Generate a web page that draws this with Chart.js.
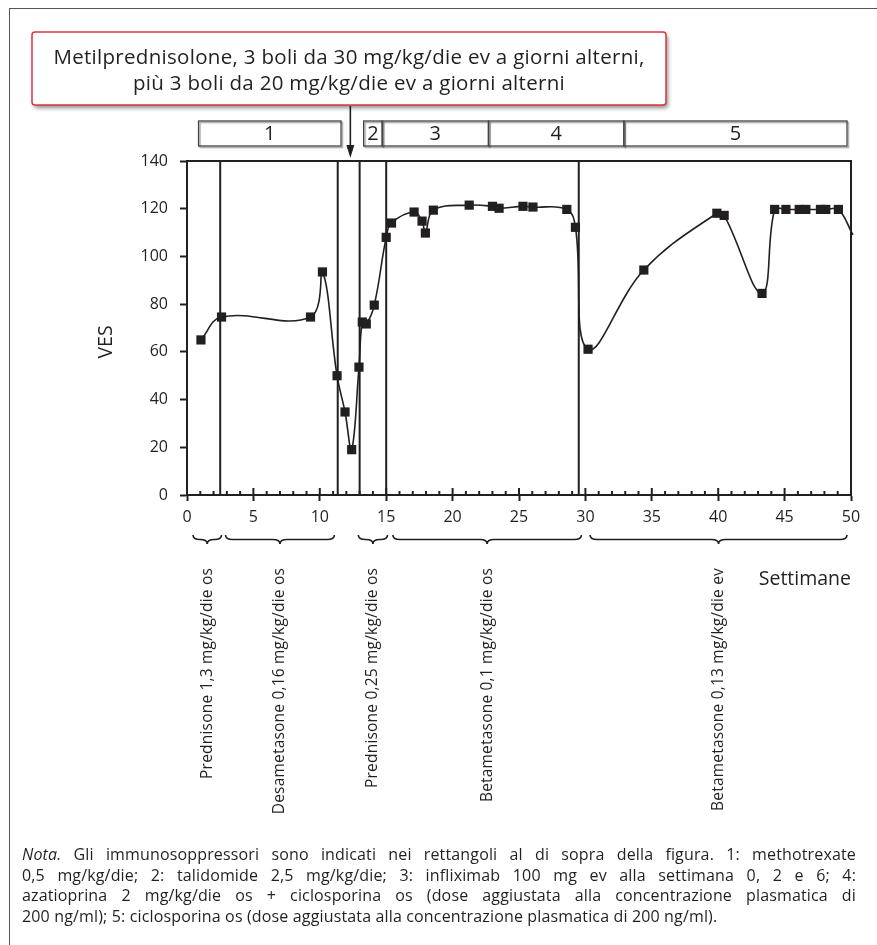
<!doctype html>
<html lang="it">
<head>
<meta charset="utf-8">
<title>VES per settimana</title>
<style>
  * { margin: 0; padding: 0; }
  body { width: 877px; height: 945px; background: #fff; font-family: "Open Sans", sans-serif; color: #231f20; overflow: hidden; position: relative; }
  .frame { position: absolute; left: 9px; top: 8px; width: 900px; height: 960px; border-left: 1.5px solid #555; border-top: 1.5px solid #555; }
  .chartBox { position: absolute; left: 0; top: 0; width: 877px; height: 945px; }
  .nota { position: absolute; left: 22px; top: 844px; width: 834px; font-size: 16px; line-height: 20.5px; letter-spacing: 0.15px; }
  .nota div { text-align: justify; text-align-last: justify; white-space: nowrap; }
  .nota div.last { text-align-last: left; }
</style>
</head>
<body>
<div class="frame"></div>
<div class="chartBox"><canvas id="vesChart"></canvas></div>
<div class="nota">
  <div><i>Nota.</i> Gli immunosoppressori sono indicati nei rettangoli al di sopra della figura. 1: methotrexate</div>
  <div>0,5 mg/kg/die; 2: talidomide 2,5 mg/kg/die; 3: infliximab 100 mg ev alla settimana 0, 2 e 6; 4:</div>
  <div>azatioprina 2 mg/kg/die os + ciclosporina os (dose aggiustata alla concentrazione plasmatica di</div>
  <div class="last">200 ng/ml); 5: ciclosporina os (dose aggiustata alla concentrazione plasmatica di 200 ng/ml).</div>
</div>
<script src="https://cdn.jsdelivr.net/npm/chart.js"></script>
<script>
const ink = '#231f20';
const font = '"Open Sans", sans-serif';

// VES measurements (week, value)
const weeks = [1.05, 2.6, 9.3, 10.2, 11.3, 11.9, 12.4, 12.95, 13.2, 13.5, 14.1, 15.0, 15.4,
  17.1, 17.7, 17.95, 18.55, 21.25, 23.0, 23.5, 25.3, 26.05, 28.6, 29.25, 30.2, 34.4,
  39.9, 40.45, 43.3, 44.25, 45.1, 46.1, 46.6, 47.7, 48.1, 49.05, 50.15];
const ves = [65, 74.6, 74.6, 93.5, 50, 34.8, 19, 53.6, 72.5, 71.7, 79.6, 108, 114,
  118.6, 114.8, 109.8, 119.4, 121.5, 121, 120.2, 121, 120.7, 119.7, 112.2, 61.1, 94.3,
  118.1, 117.2, 84.5, 119.7, 119.7, 119.7, 119.7, 119.7, 119.7, 119.7, 109];

// therapy changes (vertical lines)
const switchWeeks = [2.5, 11.35, 13.0, 15.0, 29.5];

// immunosuppressor boxes on top
const drugLabels = ['1', '2', '3', '4', '5'];
const drugStart = [0.87, 13.3, 14.7, 22.7, 32.9];
const drugEnd = [11.6, 14.7, 22.7, 32.9, 49.7];

// steroid periods under the axis
const steroidLabels = ['Prednisone 1,3 mg/kg/die os', 'Desametasone 0,16 mg/kg/die os',
  'Prednisone 0,25 mg/kg/die os', 'Betametasone 0,1 mg/kg/die os', 'Betametasone 0,13 mg/kg/die ev'];
const steroidStart = [0.45, 2.9, 12.9, 15.5, 30.35];
const steroidEnd = [2.6, 11.1, 15.1, 29.7, 49.7];

const bolusWeek = 12.3;
const bolusText = ['Metilprednisolone, 3 boli da 30 mg/kg/die ev a giorni alterni,',
  'più 3 boli da 20 mg/kg/die ev a giorni alterni'];

function brace(ctx, x0, x1, y) {
  const mid = (x0 + x1) / 2, h = 9, r = Math.min(7, (x1 - x0) / 4);
  ctx.beginPath();
  ctx.moveTo(x0, y);
  ctx.quadraticCurveTo(x0, y + h / 2, x0 + r, y + h / 2);
  ctx.lineTo(mid - r, y + h / 2);
  ctx.quadraticCurveTo(mid, y + h / 2, mid, y + h);
  ctx.quadraticCurveTo(mid, y + h / 2, mid + r, y + h / 2);
  ctx.lineTo(x1 - r, y + h / 2);
  ctx.quadraticCurveTo(x1, y + h / 2, x1, y);
  ctx.stroke();
}

// vertical lines + top/right frame of the plot
const plotLines = {
  id: 'plotLines',
  beforeDatasetsDraw(chart) {
    const { ctx, chartArea: { top, bottom, left, right }, scales: { x } } = chart;
    ctx.save();
    ctx.strokeStyle = ink;
    ctx.lineWidth = 2;
    switchWeeks.forEach(w => {
      const px = x.getPixelForValue(w);
      ctx.beginPath();
      ctx.moveTo(px, top);
      ctx.lineTo(px, bottom);
      ctx.stroke();
    });
    ctx.beginPath();
    ctx.moveTo(left, top);
    ctx.lineTo(right, top);
    ctx.lineTo(right, bottom);
    ctx.stroke();
    // inner tick marks on the x axis
    for (let i = 0; i <= 50; i++) {
      const px = x.getPixelForValue(i);
      ctx.beginPath();
      ctx.moveTo(px, bottom);
      ctx.lineTo(px, bottom - (i % 5 === 0 ? 7 : 4));
      ctx.stroke();
    }
    ctx.restore();
  }
};

// annotations around the plot
const annotations = {
  id: 'annotations',
  afterDraw(chart) {
    const { ctx, chartArea: { top, bottom, left, right }, scales: { x } } = chart;
    ctx.save();
    ctx.fillStyle = ink;
    ctx.strokeStyle = ink;

    // axis titles
    ctx.font = '19.5px ' + font;
    ctx.textAlign = 'right';
    ctx.textBaseline = 'alphabetic';
    ctx.fillText('Settimane', right, 585);
    ctx.save();
    ctx.translate(left - 81, (top + bottom) / 2 + 14);
    ctx.rotate(-Math.PI / 2);
    ctx.textAlign = 'center';
    ctx.textBaseline = 'middle';
    ctx.fillText('VES', 0, 0);
    ctx.restore();

    // steroid braces + rotated labels
    ctx.lineWidth = 1.6;
    steroidLabels.forEach((lab, i) => {
      const x0 = x.getPixelForValue(steroidStart[i]);
      const x1 = x.getPixelForValue(steroidEnd[i]);
      brace(ctx, x0, x1, 535);
      ctx.save();
      ctx.translate((x0 + x1) / 2, 568);
      ctx.rotate(-Math.PI / 2);
      ctx.font = '15.5px ' + font;
      ctx.letterSpacing = '0.2px';
      ctx.textAlign = 'right';
      ctx.textBaseline = 'middle';
      ctx.fillText(lab, 0, 0);
      ctx.restore();
    });

    // immunosuppressor boxes
    drugLabels.forEach((lab, i) => {
      const x0 = x.getPixelForValue(drugStart[i]);
      const x1 = x.getPixelForValue(drugEnd[i]);
      ctx.save();
      ctx.shadowColor = 'rgba(0,0,0,0.35)';
      ctx.shadowOffsetX = 1.5;
      ctx.shadowOffsetY = 1.5;
      ctx.shadowBlur = 1;
      ctx.strokeStyle = '#444';
      ctx.lineWidth = 1.3;
      ctx.strokeRect(x0, 121, x1 - x0, 25);
      ctx.restore();
      ctx.font = '20px ' + font;
      ctx.textAlign = 'center';
      ctx.textBaseline = 'middle';
      ctx.fillText(lab, (x0 + x1) / 2, 134);
    });

    // bolus callout
    ctx.save();
    ctx.shadowColor = 'rgba(0,0,0,0.45)';
    ctx.shadowOffsetX = 2;
    ctx.shadowOffsetY = 3;
    ctx.shadowBlur = 4;
    ctx.fillStyle = '#fff';
    ctx.beginPath();
    ctx.roundRect(32, 32, 634, 73, 3);
    ctx.fill();
    ctx.restore();
    ctx.strokeStyle = '#d7373f';
    ctx.lineWidth = 1.5;
    ctx.beginPath();
    ctx.roundRect(32, 32, 634, 73, 3);
    ctx.stroke();
    ctx.save();
    ctx.fillStyle = ink;
    ctx.font = '20.5px ' + font;
    ctx.letterSpacing = '0.3px';
    ctx.textAlign = 'center';
    ctx.textBaseline = 'alphabetic';
    ctx.fillText(bolusText[0], 349, 64);
    ctx.fillText(bolusText[1], 349, 90);
    ctx.restore();

    // arrow
    const ax = x.getPixelForValue(bolusWeek);
    ctx.strokeStyle = ink;
    ctx.lineWidth = 1.6;
    ctx.beginPath();
    ctx.moveTo(ax, 106);
    ctx.lineTo(ax, 148);
    ctx.stroke();
    ctx.beginPath();
    ctx.moveTo(ax - 4, 145);
    ctx.lineTo(ax + 4, 145);
    ctx.lineTo(ax, 158);
    ctx.closePath();
    ctx.fill();
    ctx.restore();
  }
};

const data = {
  datasets: [{
    data: weeks.map((w, i) => ({ x: w, y: ves[i] })),
    borderColor: ink,
    borderWidth: 1.6,
    tension: 0.4,
    pointStyle: 'rect',
    pointRadius: (c) => (c.raw && c.raw.x > 50 ? 0 : 6.5),
    pointBackgroundColor: ink,
    pointBorderWidth: 0,
    clip: false
  }]
};

const config = {
  type: 'line',
  data,
  options: {
    responsive: true,
    maintainAspectRatio: false,
    animation: false,
    layout: { padding: { left: 127, top: 161, right: 26, bottom: 410 } },
    plugins: { legend: { display: false }, tooltip: { enabled: false } },
    scales: {
      x: {
        type: 'linear',
        min: 0,
        max: 50,
        afterFit: (s) => { s.height = 40; },
        afterBuildTicks: (s) => { s.ticks = Array.from({ length: 51 }, (_, i) => ({ value: i })); },
        ticks: {
          autoSkip: false,
          maxRotation: 0,
          padding: 7,
          color: ink,
          font: { family: font, size: 16 },
          callback: (v) => (v % 5 === 0 ? v : '')
        },
        grid: {
          drawOnChartArea: false,
          tickLength: 6,
          tickWidth: 2,
          tickColor: (c) => (c.tick && c.tick.value % 5 === 0 ? ink : 'rgba(0,0,0,0)')
        },
        border: { color: ink, width: 2 }
      },
      y: {
        min: 0,
        max: 140,
        afterFit: (s) => { s.width = 60; },
        ticks: { stepSize: 20, padding: 12, color: ink, font: { family: font, size: 16 } },
        grid: { drawOnChartArea: false, tickLength: 7, tickWidth: 2, tickColor: ink },
        border: { color: ink, width: 2 }
      }
    }
  },
  plugins: [plotLines, annotations]
};

const vesChart = new Chart(document.getElementById('vesChart'), config);
</script>
</body>
</html>
